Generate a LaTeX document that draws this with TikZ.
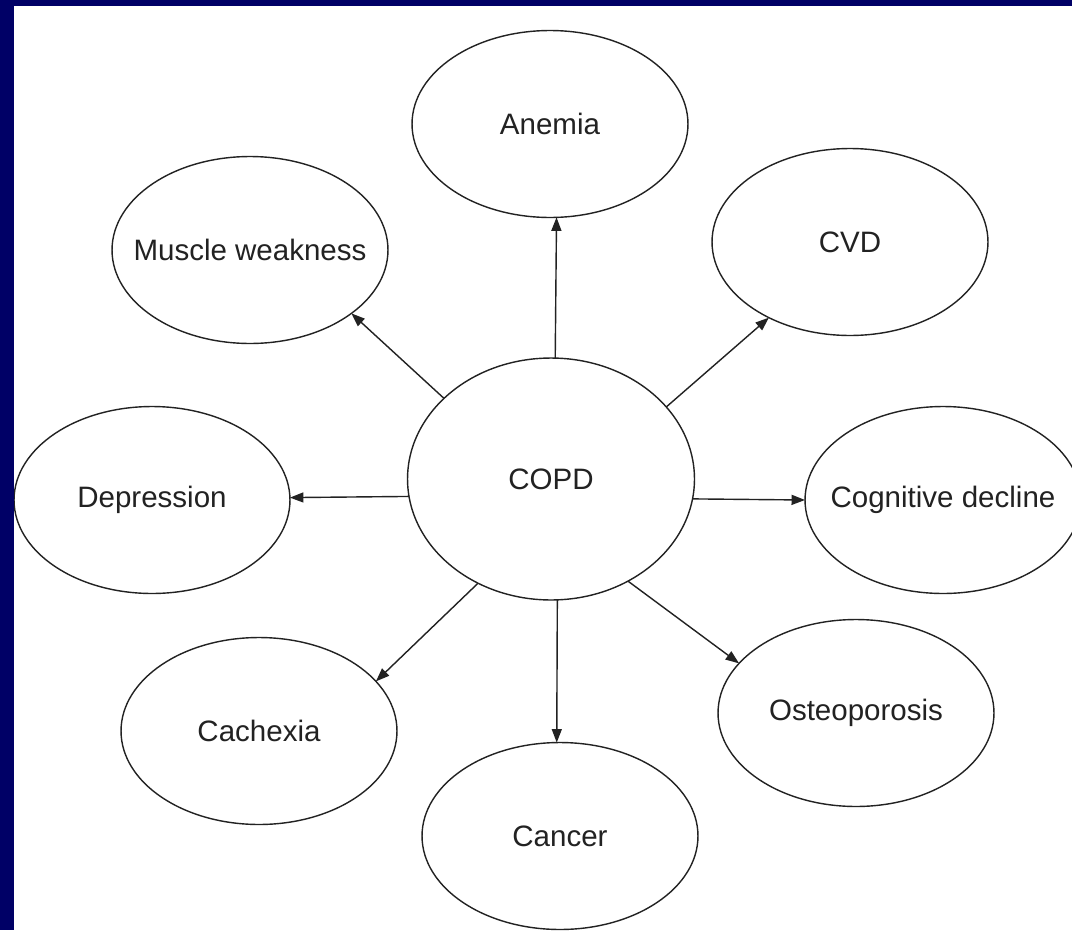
\documentclass[tikz,border=0pt]{standalone}
\usepackage{fontspec}
\setmainfont{Liberation Sans}
\usetikzlibrary{shapes.geometric,arrows.meta}
\definecolor{frameblue}{HTML}{000066}
\definecolor{ink}{HTML}{222222}
\newcommand{\bubtext}[1]{\makebox[0pt][c]{#1}}
\begin{document}
\begin{tikzpicture}[x=0.02cm,y=-0.02cm,
  bubble/.style={ellipse,draw=ink,line width=0.8pt,inner sep=0pt,outer sep=0pt,
    minimum width=5.52cm,minimum height=3.74cm,text=ink,font=\fontsize{16.8}{20}\selectfont},
  hub/.style={bubble,minimum width=5.74cm,minimum height=4.84cm},
  link/.style={draw=ink,line width=0.8pt,-{Triangle[length=0.27cm,width=0.2cm]}}]
\useasboundingbox (0,0) rectangle (1072,930);
\fill[white] (0,0) rectangle (1072,930);
\begin{scope}
\clip (0,0) rectangle (1072,930);
\node[hub] (copd) at (551,479) {\bubtext{COPD}};
\node[bubble] (anemia) at (550,124) {\bubtext{Anemia}};
\node[bubble] (cvd) at (850,242) {\bubtext{CVD}};
\node[bubble] (muscle) at (250,250) {\bubtext{Muscle weakness}};
\node[bubble] (depr) at (152,500) {\bubtext{Depression}};
\node[bubble] (cogn) at (943,500) {\bubtext{Cognitive decline}};
\node[bubble] (cach) at (259,731) {\bubtext{Cachexia}};
\node[bubble] (cancer) at (560,836) {\bubtext{Cancer}};
\node[bubble] (osteo) at (856,713) {\bubtext{Osteoporosis}};
\end{scope}
\draw[link] (copd.88) -- (anemia.-86);
\draw[link] (copd.143) -- (muscle.-32);
\draw[link] (copd.32) -- (cvd.-137);
\draw[link] (copd.-173) -- (depr.1);
\draw[link] (copd.-8) -- (cogn.180);
\draw[link] (copd.-125) -- (cach.23);
\draw[link] (copd.-87) -- (cancer.92);
\draw[link] (copd.-53) -- (osteo.157);
\fill[frameblue] (0,0) rectangle (1072,6);
\fill[frameblue] (0,0) rectangle (14,930);
\end{tikzpicture}
\end{document}
